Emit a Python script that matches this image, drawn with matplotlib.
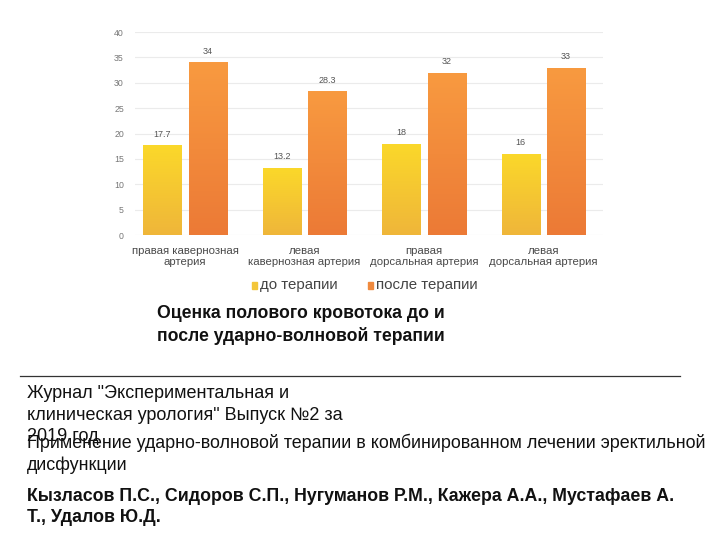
import matplotlib
matplotlib.use("Agg")
import matplotlib.pyplot as plt
import numpy as np
from matplotlib.colors import LinearSegmentedColormap

plt.rcParams['font.family'] = ['Liberation Sans', 'DejaVu Sans']

categories = ["правая кавернозная\nартерия", "левая\nкавернозная артерия",
              "правая\nдорсальная артерия", "левая\nдорсальная артерия"]
before = [17.7, 13.2, 18, 16]
after = [34, 28.3, 32, 33]
before_labels = ["17.7", "13.2", "18", "16"]
after_labels = ["34", "28.3", "32", "33"]
series_names = ["до терапии", "после терапии"]

yellow = LinearSegmentedColormap.from_list("y", ["#efb63a", "#fbd82a"])
orange = LinearSegmentedColormap.from_list("o", ["#ec7a36", "#f89a40"])

fig = plt.figure(figsize=(7.2, 5.4), dpi=100)
ax = fig.add_axes([0.1875, 0.5648, 0.65, 0.3759])

x = np.arange(len(categories))
w = 0.32
off = 0.19

def grad_bars(xs, vals, cmap):
    bars = ax.bar(xs, vals, w, color="none", edgecolor="none", zorder=2)
    for b in bars:
        x0, y0 = b.get_x(), b.get_y()
        x1, y1 = x0 + b.get_width(), y0 + b.get_height()
        g = np.linspace(0, 1, 100).reshape(-1, 1)
        im = ax.imshow(g, cmap=cmap, origin="lower", extent=[x0, x1, y0, y1],
                       aspect="auto", zorder=2)
        im.set_clip_path(b)
    return bars

b1 = grad_bars(x - off, before, yellow)
b2 = grad_bars(x + off, after, orange)

for xi, v, t in zip(x - off, before, before_labels):
    ax.text(xi, v + 1.3, t, ha="center", va="bottom", fontsize=6.5, color="#555555")
for xi, v, t in zip(x + off, after, after_labels):
    ax.text(xi, v + 1.3, t, ha="center", va="bottom", fontsize=6.5, color="#555555")

ax.set_xlim(-0.42, 3.5)
ax.set_ylim(0, 40)
ax.set_yticks(np.arange(0, 41, 5))
ax.set_xticks(x)
ax.set_xticklabels(categories, fontsize=8.2, color="#4a4a4a", linespacing=1.1)
ax.tick_params(axis="y", labelsize=6.3, colors="#777777", length=0, pad=8)
ax.tick_params(axis="x", length=0, pad=8)
ax.grid(axis="y", color="#ebebeb", linewidth=0.8, zorder=0)
ax.set_axisbelow(True)
for s in ax.spines.values():
    s.set_visible(False)

# legend
fig.patches.append(plt.Rectangle((252 / 720, 1 - 289 / 540), 5 / 720, 7 / 540,
                                 transform=fig.transFigure, color="#f3c63a"))
fig.text(260 / 720, 1 - 285 / 540, series_names[0], fontsize=10.8, color="#444444",
         va="center", ha="left")
fig.patches.append(plt.Rectangle((368 / 720, 1 - 289 / 540), 5 / 720, 7 / 540,
                                 transform=fig.transFigure, color="#f08a3e"))
fig.text(376 / 720, 1 - 285 / 540, series_names[1], fontsize=10.8, color="#444444",
         va="center", ha="left")

fig.text(157 / 720, 1 - 325 / 540,
         "Оценка полового кровотока до и\nпосле ударно-волновой терапии",
         fontsize=12.7, fontweight="bold", color="#111111", va="center", ha="left",
         linespacing=1.35)

fig.add_artist(plt.Line2D([20 / 720, 680 / 720], [1 - 376 / 540, 1 - 376 / 540],
                          transform=fig.transFigure, color="#333333", linewidth=0.9))

fig.text(27 / 720, 1 - 415 / 540,
         "Журнал \"Экспериментальная и\nклиническая урология\" Выпуск №2 за\n2019 год",
         fontsize=13, color="#111111", va="center", ha="left", linespacing=1.38)
fig.text(27 / 720, 1 - 454 / 540,
         "Применение ударно-волновой терапии в комбинированном лечении эректильной\nдисфункции",
         fontsize=12.9, color="#111111", va="center", ha="left", linespacing=1.38)
fig.text(27 / 720, 1 - 507 / 540,
         "Кызласов П.С., Сидоров С.П., Нугуманов Р.М., Кажера А.А., Мустафаев А.\nТ., Удалов Ю.Д.",
         fontsize=12.8, fontweight="bold", color="#111111", va="center", ha="left",
         linespacing=1.38)

fig.savefig("out.png", dpi=100)
